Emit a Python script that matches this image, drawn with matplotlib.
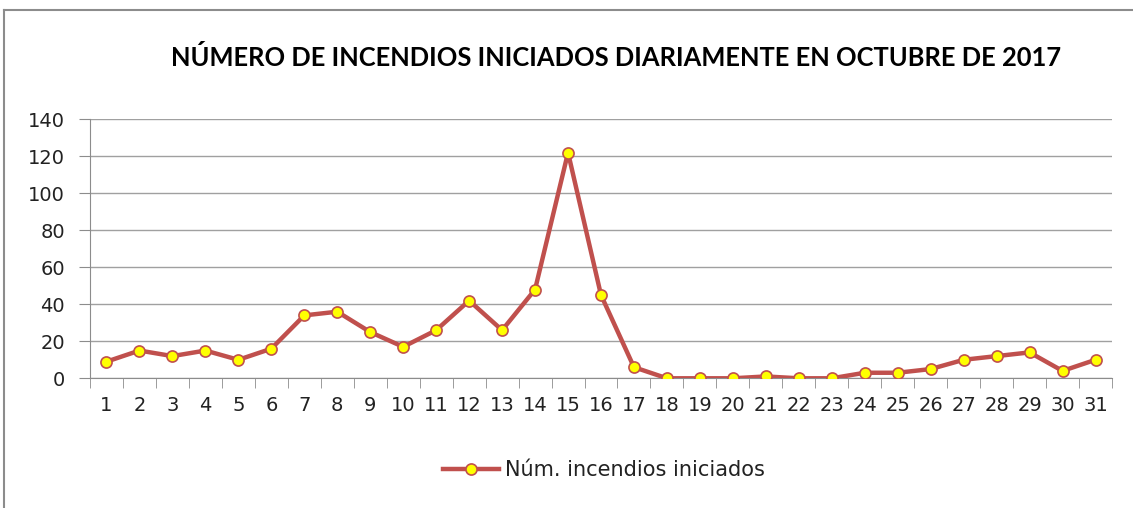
import numpy as np
import matplotlib
matplotlib.use("Agg")
import matplotlib.pyplot as plt
from matplotlib.lines import Line2D

# datos
dias = list(range(1, 32))
incendios = [9, 15, 12, 15, 10, 16, 34, 36, 25, 17, 26, 42, 26, 48, 122, 45,
             6, 0, 0, 0, 1, 0, 0, 3, 3, 5, 10, 12, 14, 4, 10]
yticks = [0, 20, 40, 60, 80, 100, 120, 140]
titulo = "NÚMERO DE INCENDIOS INICIADOS DIARIAMENTE EN OCTUBRE DE 2017"
etiqueta = "Núm. incendios iniciados"

plt.rcParams['font.family'] = ['DejaVu Sans']

W, H = 1133, 508
fig = plt.figure(figsize=(W / 100, H / 100), dpi=100)

# marco del area del grafico (solo se ven el lado izquierdo y el de arriba)
gris = "#8c8c8c"
fig.add_artist(Line2D([4 / W, 1], [1 - 10 / H, 1 - 10 / H], color=gris, linewidth=1.5,
                      transform=fig.transFigure))
fig.add_artist(Line2D([4 / W, 4 / W], [0, 1 - 10 / H], color=gris, linewidth=1.5,
                      transform=fig.transFigure))

ax = fig.add_axes([90 / W, (H - 378.3) / H, (1112 - 90) / W, (378.3 - 119.3) / H])

ax.plot(dias, incendios, color="#C0504D", linewidth=3.2, marker="o",
        markersize=8, markerfacecolor="#FFFF00", markeredgecolor="#C0504D",
        markeredgewidth=1.2, label=etiqueta, zorder=3)

ax.set_xlim(0.5, 31.5)
ax.set_ylim(0, 140)
ax.set_yticks(yticks)
ax.set_xticks(dias)
ax.set_xticks(np.arange(0.5, 32, 1), minor=True)
ax.tick_params(axis="x", which="major", length=0, pad=13, labelsize=14, labelcolor="#222222")
ax.tick_params(axis="x", which="minor", length=7, color=gris, direction="out")
ax.tick_params(axis="y", length=8, color=gris, pad=10, labelsize=14, labelcolor="#222222")

ax.grid(axis="y", color="#a0a0a0", linewidth=1)
ax.set_axisbelow(True)
for s in ["top", "right"]:
    ax.spines[s].set_visible(False)
for s in ["left", "bottom"]:
    ax.spines[s].set_color(gris)

fig.text(616 / W, 1 - 58 / H, titulo, ha="center", va="center",
         fontsize=18.4, fontweight="bold", family=["Lato", "DejaVu Sans"])

fig.legend(loc="center", bbox_to_anchor=(604 / W, 1 - 470 / H), frameon=False,
           fontsize=15, handlelength=2.7, handletextpad=0.3, labelcolor="#222222")

fig.savefig("out.png", dpi=100)
